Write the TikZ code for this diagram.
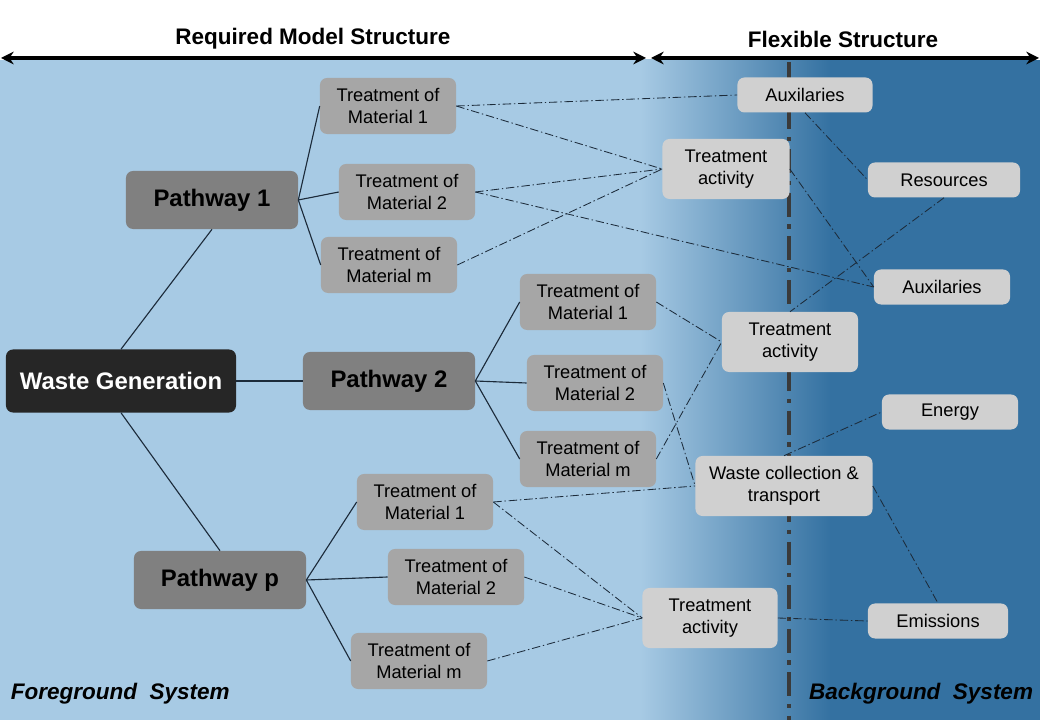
\documentclass[tikz,border=0pt]{standalone}
\usepackage{fontspec}
\setmainfont{Liberation Sans}
\usepackage{tikz}
\usetikzlibrary{positioning,arrows.meta,calc}
\definecolor{fgblue}{HTML}{A7CAE4}
\definecolor{bgblue}{HTML}{3471A1}
\definecolor{wgfill}{HTML}{262626}
\definecolor{pathfill}{HTML}{808080}
\definecolor{matfill}{HTML}{A6A6A6}
\definecolor{procfill}{HTML}{D0D0D0}
\definecolor{linkc}{HTML}{1C2B3A}
\definecolor{splitc}{HTML}{3A3A3A}
\newcommand{\bigfont}{\fontsize{17}{20}\selectfont\bfseries}
\newcommand{\boxfont}{\fontsize{13}{16}\selectfont}

\begin{document}
\begin{tikzpicture}[x=0.025cm,y=-0.025cm,
  box/.style={rounded corners=5pt,align=center,inner sep=1pt,text=black},
  wastebox/.style={box,fill=wgfill,text=white,font=\bigfont,minimum width=5.75cm,minimum height=1.575cm},
  pathbox/.style={box,fill=pathfill,font=\bigfont,minimum width=4.3cm,minimum height=1.45cm},
  matbox/.style={box,fill=matfill,font=\boxfont,minimum width=3.4cm,minimum height=1.4cm},
  procbox/.style={box,fill=procfill,font=\boxfont,minimum height=0.875cm},
  twoline/.style={minimum height=1.5cm},
  treeline/.style={linkc,line width=0.8pt},
  flowline/.style={linkc,line width=0.6pt,dash pattern=on 6pt off 2pt on 1pt off 2pt},
  span/.style={black,line width=2.8pt,{Stealth[length=9pt,width=9pt]}-{Stealth[length=9pt,width=9pt]}}]
  \useasboundingbox (0,0) rectangle (1040,720);
  % background: foreground and background system
  \fill[white] (0,0) rectangle (1040,60);
  \fill[fgblue] (0,60) rectangle (641,720);
  \shade[left color=fgblue,right color=bgblue] (640,60) rectangle (831,720);
  \fill[bgblue] (830,60) rectangle (1040,720);
  \draw[splitc,line width=2.8pt,dash pattern=on 17pt off 5.5pt on 3pt off 5.5pt] (789,62) -- (789,720);

  % scope arrows
  \draw[span] (1,58) -- (646,58);
  \draw[span] (651,58) -- (1039,58);
  \node[font=\fontsize{16}{19}\selectfont\bfseries] (reqlbl) at (313,39) {Required Model Structure};
  \node[font=\fontsize{16}{19}\selectfont\bfseries] (flexlbl) at (843,39) {Flexible Structure};

  % foreground tree
  \node[wastebox] (wg) at (121,381) {Waste Generation};
  \node[pathbox] (pw1) at (212,200) {Pathway 1};
  \node[pathbox] (pw2) at (389,381) {Pathway 2};
  \node[pathbox] (pwp) at (220,580) {Pathway p};
  \node[matbox] (m11) at (388,106) {Treatment of\\Material 1};
  \node[matbox] (m12) at (407,192) {Treatment of\\Material 2};
  \node[matbox] (m1m) at (389,265) {Treatment of\\Material m};
  \node[matbox] (m21) at (588,302) {Treatment of\\Material 1};
  \node[matbox] (m22) at (595,383) {Treatment of\\Material 2};
  \node[matbox] (m2m) at (588,459) {Treatment of\\Material m};
  \node[matbox] (mp1) at (425,502) {Treatment of\\Material 1};
  \node[matbox] (mp2) at (456,577) {Treatment of\\Material 2};
  \node[matbox] (mpm) at (419,661) {Treatment of\\Material m};

  % flexible processes
  \node[procbox,minimum width=3.375cm] (aux1) at (805,95) {Auxilaries};
  \node[procbox,twoline,minimum width=3.175cm] (ta1) at (726,169) {Treatment\\activity};
  \node[procbox,minimum width=3.8cm] (res) at (944,180) {Resources};
  \node[procbox,minimum width=3.4cm] (aux2) at (942,287) {Auxilaries};
  \node[procbox,twoline,minimum width=3.4cm] (ta2) at (790,342) {Treatment\\activity};
  \node[procbox,minimum width=3.4cm] (energy) at (950,412) {Energy};
  \node[procbox,twoline,minimum width=4.425cm] (wct) at (784,486) {Waste collection \&\\transport};
  \node[procbox,twoline,minimum width=3.375cm] (ta3) at (710,618) {Treatment\\activity};
  \node[procbox,minimum width=3.5cm] (emis) at (938,621) {Emissions};

  \node[font=\fontsize{16}{19}\selectfont\bfseries\itshape,anchor=west] (fglbl) at (6,694) {Foreground\ \ System};
  \node[font=\fontsize{16}{19}\selectfont\bfseries\itshape,anchor=east] (bglbl) at (1038,694) {Background\ \ System};

  % tree links
  \draw[treeline] (wg.north) -- (pw1.south);
  \draw[treeline] (wg.east) -- (pw2.west);
  \draw[treeline] (wg.south) -- (pwp.north);
  \foreach \m in {m11,m12,m1m} \draw[treeline] (pw1.east) -- (\m.west);
  \foreach \m in {m21,m22,m2m} \draw[treeline] (pw2.east) -- (\m.west);
  \foreach \m in {mp1,mp2,mpm} \draw[treeline] (pwp.east) -- (\m.west);

  % flows to flexible structure
  \draw[flowline] (m11.east) -- (aux1.west);
  \foreach \m in {m11,m12,m1m} \draw[flowline] (\m.east) -- (ta1.west);
  \draw[flowline] (m12.east) -- (aux2.west);
  \draw[flowline] (aux1.south) -- (res.west);
  \draw[flowline] (ta1.east) -- (aux2.west);
  \draw[flowline] (res.south) -- (ta2.north);
  \foreach \m in {m21,m2m} \draw[flowline] (\m.east) -- (ta2.west);
  \draw[flowline] (m22.east) -- (wct.west);
  \draw[flowline] (mp1.east) -- (wct.west);
  \draw[flowline] (wct.north) -- (energy.west);
  \draw[flowline] (wct.east) -- (emis.north);
  \foreach \m in {mp1,mp2,mpm} \draw[flowline] (\m.east) -- (ta3.west);
  \draw[flowline] (ta3.east) -- (emis.west);
\end{tikzpicture}
\end{document}
